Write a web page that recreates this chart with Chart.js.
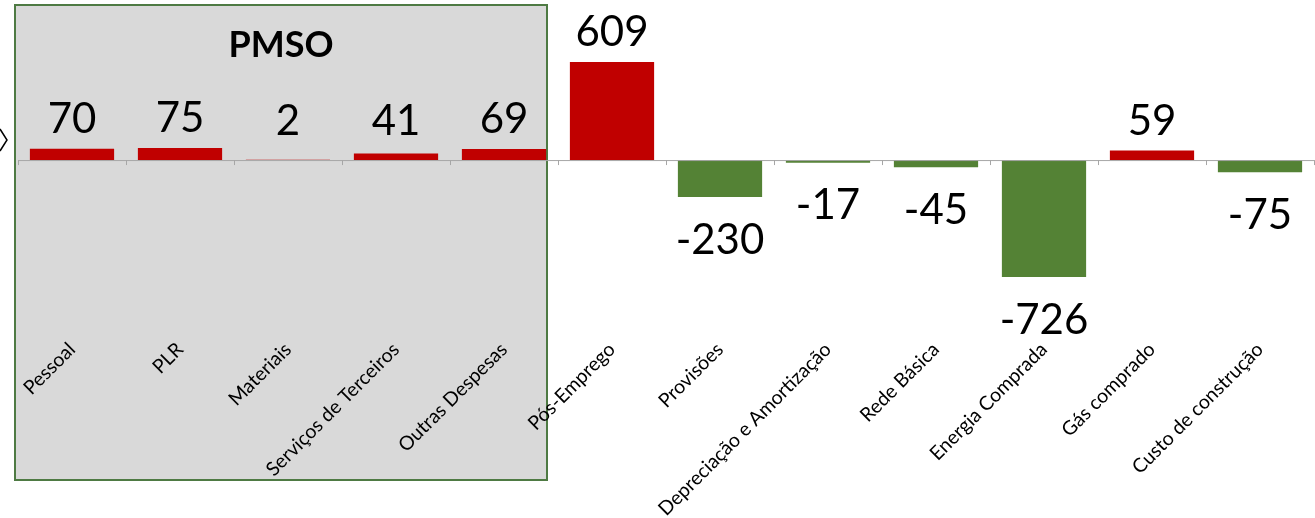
<!DOCTYPE html>
<html>
<head>
<meta charset="utf-8">
<script src="https://cdn.jsdelivr.net/npm/chart.js@4"></script>
<style>
  html, body { margin: 0; padding: 0; background: #fff; }
  #wrap { width: 1315px; height: 518px; position: relative; }
</style>
</head>
<body>
<div id="wrap"><canvas id="costChart"></canvas></div>
<script>
(() => {
  const categories = [
    "Pessoal", "PLR", "Materiais", "Serviços de Terceiros", "Outras Despesas",
    "Pós-Emprego", "Provisões", "Depreciação e Amortização", "Rede Básica",
    "Energia Comprada", "Gás comprado", "Custo de construção",
  ];
  const values = [70, 75, 2, 41, 69, 609, -230, -17, -45, -726, 59, -75];
  const groupTitle = "PMSO";
  const groupCount = 5;

  const RED = "#c00000";
  const GREEN = "#548235";

  const groupBox = {
    id: "groupBox",
    // gray PMSO box, drawn before the axes so the labels stay on top
    beforeDraw(chart) {
      const { ctx } = chart;
      const x = chart.scales.x;
      const half = (x.getPixelForValue(1) - x.getPixelForValue(0)) / 2;
      const left = x.getPixelForValue(0) - half - 3;
      const right = x.getPixelForValue(groupCount - 1) + half - 11;
      ctx.save();
      ctx.fillStyle = "#d9d9d9";
      ctx.fillRect(left, 5, right - left, 475);
      ctx.strokeStyle = "#4e7a43";
      ctx.lineWidth = 2;
      ctx.strokeRect(left, 5, right - left, 475);
      ctx.fillStyle = "#000";
      ctx.font = "bold 36px Lato";
      ctx.textAlign = "center";
      ctx.textBaseline = "alphabetic";
      ctx.fillText(groupTitle, (left + right) / 2, 57);
      // cropped chevron on the far left
      ctx.strokeStyle = "#000";
      ctx.lineWidth = 1.5;
      ctx.beginPath();
      ctx.moveTo(0, 129);
      ctx.lineTo(7, 140);
      ctx.lineTo(0, 151);
      ctx.stroke();
      ctx.restore();
    },
    afterDatasetsDraw(chart) {
      const { ctx } = chart;
      const x = chart.scales.x;
      const y0 = chart.scales.y.getPixelForValue(0);
      const half = (x.getPixelForValue(1) - x.getPixelForValue(0)) / 2;
      ctx.save();
      ctx.strokeStyle = "#a6a6a6";
      ctx.lineWidth = 1;
      ctx.beginPath();
      ctx.moveTo(chart.chartArea.left, y0 + 0.5);
      ctx.lineTo(chart.chartArea.right, y0 + 0.5);
      for (let i = 0; i <= categories.length; i++) {
        const px = Math.round(x.getPixelForValue(0) - half + i * half * 2) + 0.5;
        ctx.moveTo(px, y0);
        ctx.lineTo(px, y0 + 5);
      }
      ctx.stroke();

      // value labels
      const meta = chart.getDatasetMeta(0);
      ctx.fillStyle = "#000";
      ctx.font = "42px Lato";
      ctx.textAlign = "center";
      meta.data.forEach((bar, i) => {
        const v = values[i];
        if (v >= 0) {
          ctx.textBaseline = "alphabetic";
          ctx.fillText(String(v), bar.x, Math.min(bar.y - 16, 135));
        } else {
          ctx.textBaseline = "top";
          ctx.fillText(String(v), bar.x, bar.y + 22);
        }
      });
      ctx.restore();
    },
  };

  new Chart(document.querySelector("#costChart"), {
    type: "bar",
    data: {
      labels: categories,
      datasets: [
        {
          data: values,
          backgroundColor: values.map((v) => (v >= 0 ? RED : GREEN)),
          barPercentage: 0.78,
          categoryPercentage: 1,
        },
      ],
    },
    options: {
      responsive: true,
      maintainAspectRatio: false,
      animation: false,
      layout: { padding: { left: 18, right: 1, top: 0, bottom: 0 } },
      plugins: {
        legend: { display: false },
        tooltip: { enabled: false },
      },
      scales: {
        x: {
          grid: { display: false },
          border: { display: false },
          afterFit: (axis) => { axis.height = 180; },
          ticks: {
            autoSkip: false,
            minRotation: 45,
            maxRotation: 45,
            padding: -8,
            color: "#000",
            font: { family: "Lato", size: 19.5 },
          },
        },
        y: {
          display: false,
          min: -1105,
          max: 994,
        },
      },
    },
    plugins: [groupBox],
  });
})();
</script>
</body>
</html>
